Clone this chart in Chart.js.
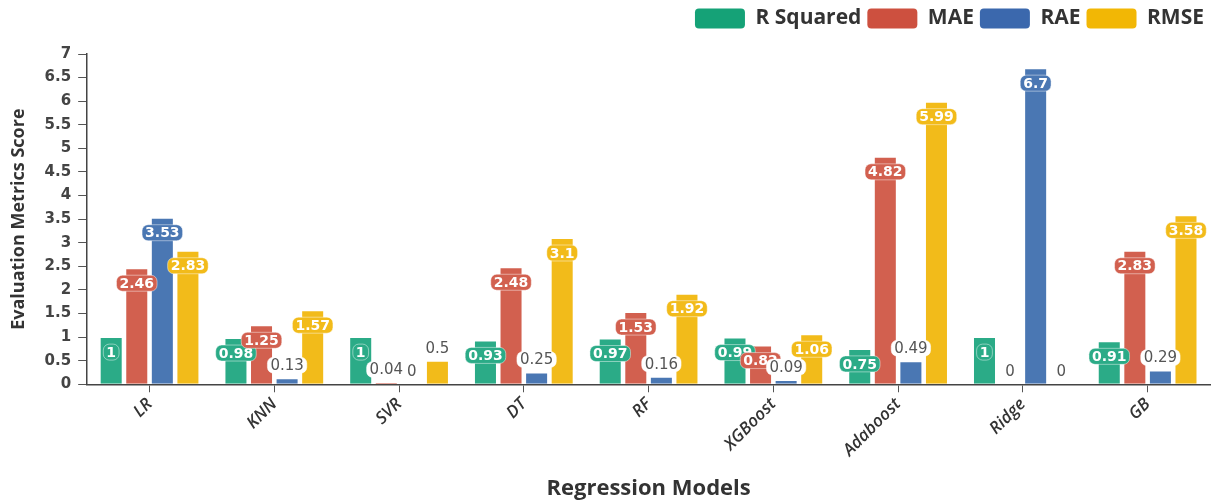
<!DOCTYPE html>
<html>
<head>
<meta charset="utf-8">
<script src="https://cdn.jsdelivr.net/npm/chart.js@4"></script>
<style>
  html, body { margin: 0; padding: 0; background: #fff; }
  #wrap { width: 1215px; height: 504px; }
</style>
</head>
<body>
<div id="wrap"><canvas id="metricsChart"></canvas></div>
<script>
// regression models on the x axis
var models = ["LR", "KNN", "SVR", "DT", "RF", "XGBoost", "Adaboost", "Ridge", "GB"];

// one array per metric
var rSquared = [1, 0.98, 1, 0.93, 0.97, 0.99, 0.75, 1, 0.91];
var mae      = [2.46, 1.25, 0.04, 2.48, 1.53, 0.82, 4.82, 0, 2.83];
var rae      = [3.53, 0.13, 0, 0.25, 0.16, 0.09, 0.49, 6.7, 0.29];
var rmse     = [2.83, 1.57, 0.5, 3.1, 1.92, 1.06, 5.99, 0, 3.58];

var metricNames = ["R Squared", "MAE", "RAE", "RMSE"];
var barColors    = ["#2bab87", "#d2604f", "#4a77b3", "#f2bb1a"];
var legendColors = ["#15a277", "#cd503f", "#3b68ad", "#f2b705"];

// labels on top of bars (no datalabels plugin, so drawn here)
var barLabels = {
    id: 'barLabels',
    afterDatasetsDraw: function(chart) {
        var ctx = chart.ctx;
        ctx.save();
        chart.data.datasets.forEach(function(ds, i) {
            var meta = chart.getDatasetMeta(i);
            meta.data.forEach(function(bar, j) {
                var v = ds.data[j];
                var txt = String(v);
                var inside = v >= 0.6;
                ctx.font = inside ? 'bold 14px "DejaVu Sans"' : '15px "DejaVu Sans"';
                var w = ctx.measureText(txt).width + 6;
                var h = 16;
                var cy = inside ? bar.y + 15 : bar.y - 13;
                var x0 = bar.x - w / 2, y0 = cy - h / 2;
                ctx.beginPath();
                ctx.roundRect(x0, y0, w, h, 6);
                ctx.fillStyle = inside ? barColors[i] : '#ffffff';
                ctx.fill();
                ctx.lineWidth = 1;
                ctx.strokeStyle = 'rgba(255,255,255,0.45)';
                ctx.stroke();
                ctx.fillStyle = inside ? '#ffffff' : '#555555';
                ctx.textAlign = 'center';
                ctx.textBaseline = 'middle';
                ctx.fillText(txt, bar.x, cy + 1);
            });
        });
        ctx.restore();
    }
};

// extra space under the legend
var legendGap = {
    id: 'legendGap',
    beforeInit: function(chart) {
        var origFit = chart.legend.fit;
        chart.legend.fit = function() {
            origFit.bind(chart.legend)();
            this.height += 15;
        };
    }
};

var allSeries = [rSquared, mae, rae, rmse];

var ctx = document.getElementById('metricsChart').getContext('2d');
var chart = new Chart(ctx, {
    type: 'bar',
    data: {
        labels: models,
        datasets: allSeries.map(function(s, i) {
            return {
                label: metricNames[i],
                data: s,
                backgroundColor: barColors[i],
                borderColor: 'rgba(255,255,255,0.5)',
                borderWidth: 1,
                categoryPercentage: 0.82,
                barPercentage: 0.9
            };
        })
    },
    options: {
        responsive: true,
        maintainAspectRatio: false,
        animation: false,
        layout: { padding: { left: 4, right: 5, top: 2, bottom: 0 } },
        plugins: {
            legend: {
                position: 'top',
                align: 'end',
                labels: {
                    boxWidth: 50,
                    boxHeight: 20,
                    padding: 6,
                    useBorderRadius: true,
                    borderRadius: 4,
                    color: '#333',
                    font: { family: '"Open Sans"', size: 21, weight: 'bold' },
                    generateLabels: function(chart) {
                        var items = Chart.defaults.plugins.legend.labels.generateLabels(chart);
                        items.forEach(function(it, i) {
                            it.fillStyle = legendColors[i];
                            it.strokeStyle = legendColors[i];
                            it.lineWidth = 0;
                        });
                        return items;
                    }
                }
            },
            tooltip: { enabled: false }
        },
        scales: {
            x: {
                grid: { display: true, offset: false, drawOnChartArea: false, tickLength: 8, color: '#555' },
                border: { color: '#444', width: 1.5 },
                ticks: {
                    minRotation: 45,
                    maxRotation: 45,
                    color: '#333',
                    padding: 2,
                    font: { family: '"Open Sans"', size: 17, style: 'italic', weight: '600' }
                },
                title: {
                    display: true,
                    text: 'Regression Models',
                    color: '#333',
                    font: { family: '"Open Sans"', size: 22, weight: 'bold' },
                    padding: { top: 13, bottom: 2 }
                }
            },
            y: {
                min: 0,
                max: 7,
                grid: { display: true, drawOnChartArea: false, tickLength: 9, color: '#555' },
                border: { color: '#444', width: 1.5 },
                ticks: {
                    stepSize: 0.5,
                    color: '#444',
                    padding: 7,
                    font: { family: '"DejaVu Sans"', size: 15, weight: 'bold' },
                    callback: function(v) { return String(v); }
                },
                title: {
                    display: true,
                    text: 'Evaluation Metrics Score',
                    color: '#333',
                    font: { family: '"Open Sans"', size: 18, weight: 'bold' },
                    padding: { top: 4, bottom: 8 }
                }
            }
        }
    },
    plugins: [barLabels, legendGap]
});
</script>
</body>
</html>
